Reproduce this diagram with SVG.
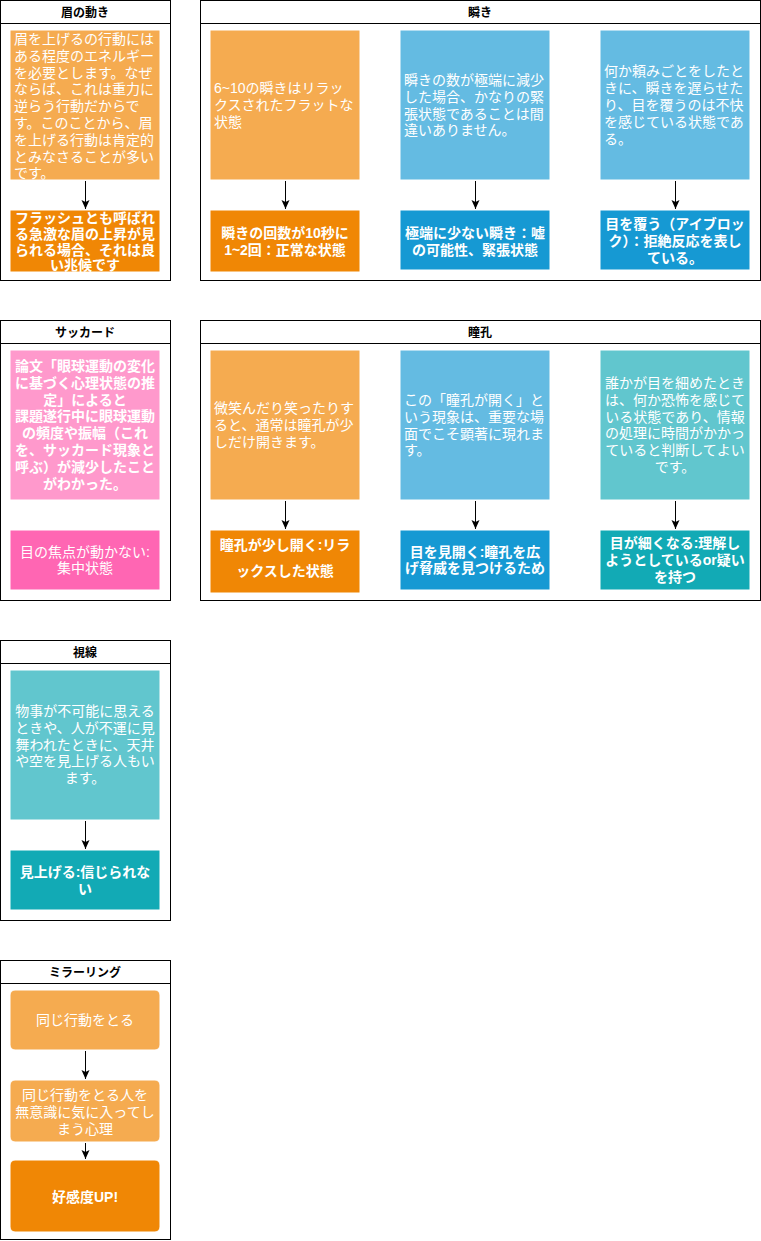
<svg xmlns="http://www.w3.org/2000/svg" width="761" height="1241" viewBox="0 0 761 1241">
<style>
text{font-family:"Liberation Sans","Noto Sans CJK JP",sans-serif;fill:#ffffff;font-size:14px}
.h{fill:#000000;font-size:12px;font-weight:bold;text-anchor:middle}
.b{font-weight:bold}
.c{text-anchor:middle}
.lane{fill:#ffffff;stroke:#000000;stroke-width:1}
.sep{stroke:#000000;stroke-width:1}
.n{stroke:#ffffff;stroke-width:1}
.lo{fill:#F5AB50}.o{fill:#F08705}
.lb{fill:#64BBE2}.bl{fill:#1699D3}
.lt{fill:#61C6CE}.t{fill:#12AAB5}
.lp{fill:#FF99CC}.p{fill:#FF66B3}
.e{stroke:#000000;stroke-width:1;fill:none;marker-end:url(#arr)}
</style>
<defs>
<marker id="arr" markerUnits="userSpaceOnUse" markerWidth="10" markerHeight="9" refX="9" refY="4" orient="auto" viewBox="0 0 10 9">
<path d="M0,0 L9,4 L0,8 L2,4 Z" fill="#000000"/>
</marker>
</defs>

<g id="lane-mayu">
<rect class="lane" x="0.5" y="0.5" width="170" height="280"/>
<line class="sep" x1="0.5" y1="23.5" x2="170.5" y2="23.5"/>
<text class="h" x="85" y="17">眉の動き</text>
</g>
<g id="mayu-1">
<rect class="n lo" x="10" y="30" width="150" height="150"/>
<text x="14" y="44">眉を上げるの行動には</text>
<text x="14" y="60.8">ある程度のエネルギー</text>
<text x="14" y="77.6">を必要とします。なぜ</text>
<text x="14" y="94.4">ならば、これは重力に</text>
<text x="14" y="111.2">逆らう行動だからで</text>
<text x="14" y="128">す。このことから、眉</text>
<text x="14" y="144.8">を上げる行動は肯定的</text>
<text x="14" y="161.6">とみなさることが多い</text>
<text x="14" y="178">です。</text>
</g>
<g id="mayu-2">
<rect class="n o" x="10" y="210" width="150" height="62"/>
<text class="b c" x="85" y="222.5">フラッシュとも呼ばれ</text>
<text class="b c" x="85" y="238.5">る急激な眉の上昇が見</text>
<text class="b c" x="85" y="254.5">られる場合、それは良</text>
<text class="b c" x="85" y="270">い兆候です</text>
</g>

<g id="lane-mabataki">
<rect class="lane" x="200.5" y="0.5" width="560" height="280"/>
<line class="sep" x1="200.5" y1="23.5" x2="760.5" y2="23.5"/>
<text class="h" x="480" y="17">瞬き</text>
</g>
<g id="mabataki-1">
<rect class="n lo" x="210" y="30" width="150" height="150"/>
<text x="214" y="93">6~10の瞬きはリラッ</text>
<text x="214" y="110">クスされたフラットな</text>
<text x="214" y="127">状態</text>
</g>
<g id="mabataki-2">
<rect class="n lb" x="400" y="30" width="150" height="150"/>
<text x="404" y="85">瞬きの数が極端に減少</text>
<text x="404" y="101.8">した場合、かなりの緊</text>
<text x="404" y="118.6">張状態であることは間</text>
<text x="404" y="135.4">違いありません。</text>
</g>
<g id="mabataki-3">
<rect class="n lb" x="600" y="30" width="150" height="150"/>
<text x="604" y="76.4">何か頼みごとをしたと</text>
<text x="604" y="93.2">きに、瞬きを遅らせた</text>
<text x="604" y="110">り、目を覆うのは不快</text>
<text x="604" y="126.8">を感じている状態であ</text>
<text x="604" y="143.6">る。</text>
</g>
<g id="mabataki-1b">
<rect class="n o" x="210" y="210" width="150" height="62"/>
<text class="b c" x="285" y="238">瞬きの回数が10秒に</text>
<text class="b c" x="285" y="255">1~2回：正常な状態</text>
</g>
<g id="mabataki-2b">
<rect class="n bl" x="400" y="210" width="150" height="60"/>
<text class="b c" x="475" y="238">極端に少ない瞬き：嘘</text>
<text class="b c" x="475" y="255">の可能性、緊張状態</text>
</g>
<g id="mabataki-3b">
<rect class="n bl" x="600" y="210" width="150" height="60"/>
<text class="b c" x="675" y="229">目を覆う（アイブロッ</text>
<text class="b c" x="675" y="246">ク）：拒絶反応を表し</text>
<text class="b c" x="675" y="263">ている。</text>
</g>

<g id="lane-saccade">
<rect class="lane" x="0.5" y="320.5" width="170" height="280"/>
<line class="sep" x1="0.5" y1="343.5" x2="170.5" y2="343.5"/>
<text class="h" x="85" y="337">サッカード</text>
</g>
<g id="saccade-1">
<rect class="n lp" x="10" y="350" width="150" height="150"/>
<text class="b c" x="85" y="371">論文「眼球運動の変化</text>
<text class="b c" x="85" y="387.8">に基づく心理状態の推</text>
<text class="b c" x="85" y="404.6">定」によると</text>
<text class="b c" x="85" y="421.4">課題遂行中に眼球運動</text>
<text class="b c" x="85" y="438.2">の頻度や振幅（これ</text>
<text class="b c" x="85" y="455">を、サッカード現象と</text>
<text class="b c" x="85" y="471.8">呼ぶ）が減少したこと</text>
<text class="b c" x="85" y="488.6">がわかった。</text>
</g>
<g id="saccade-2">
<rect class="n p" x="10" y="530" width="150" height="60"/>
<text class="c" x="85" y="556.6">目の焦点が動かない:</text>
<text class="c" x="85" y="573.4">集中状態</text>
</g>

<g id="lane-doukou">
<rect class="lane" x="200.5" y="320.5" width="560" height="280"/>
<line class="sep" x1="200.5" y1="343.5" x2="760.5" y2="343.5"/>
<text class="h" x="480" y="337">瞳孔</text>
</g>
<g id="doukou-1">
<rect class="n lo" x="210" y="350" width="150" height="150"/>
<text x="214" y="413">微笑んだり笑ったりす</text>
<text x="214" y="430">ると、通常は瞳孔が少</text>
<text x="214" y="447">しだけ開きます。</text>
</g>
<g id="doukou-2">
<rect class="n lb" x="400" y="350" width="150" height="150"/>
<text x="404" y="405">この「瞳孔が開く」と</text>
<text x="404" y="421.8">いう現象は、重要な場</text>
<text x="404" y="438.6">面でこそ顕著に現れま</text>
<text x="404" y="455.4">す。</text>
</g>
<g id="doukou-3">
<rect class="n lt" x="600" y="350" width="150" height="150"/>
<text class="c" x="675" y="388">誰かが目を細めたとき</text>
<text class="c" x="675" y="404.8">は、何か恐怖を感じて</text>
<text class="c" x="675" y="421.6">いる状態であり、情報</text>
<text class="c" x="675" y="438.4">の処理に時間がかかっ</text>
<text class="c" x="675" y="455.2">ていると判断してよい</text>
<text class="c" x="675" y="472">です。</text>
</g>
<g id="doukou-1b">
<rect class="n o" x="210" y="530" width="150" height="63"/>
<text class="b c" x="285" y="550">瞳孔が少し開く:リラ</text>
<text class="b c" x="285" y="576">ックスした状態</text>
</g>
<g id="doukou-2b">
<rect class="n bl" x="400" y="530" width="150" height="60"/>
<text class="b c" x="475" y="556.6">目を見開く:瞳孔を広</text>
<text class="b c" x="475" y="573.4">げ脅威を見つけるため</text>
</g>
<g id="doukou-3b">
<rect class="n t" x="600" y="530" width="150" height="60"/>
<text class="b c" x="675" y="548">目が細くなる:理解し</text>
<text class="b c" x="675" y="565">ようとしているor疑い</text>
<text class="b c" x="675" y="582">を持つ</text>
</g>

<g id="lane-shisen">
<rect class="lane" x="0.5" y="640.5" width="170" height="280"/>
<line class="sep" x1="0.5" y1="663.5" x2="170.5" y2="663.5"/>
<text class="h" x="85" y="657">視線</text>
</g>
<g id="shisen-1">
<rect class="n lt" x="10" y="670" width="150" height="150"/>
<text class="c" x="85" y="716">物事が不可能に思える</text>
<text class="c" x="85" y="732.8">ときや、人が不運に見</text>
<text class="c" x="85" y="749.6">舞われたときに、天井</text>
<text class="c" x="85" y="766.4">や空を見上げる人もい</text>
<text class="c" x="85" y="783.2">ます。</text>
</g>
<g id="shisen-2">
<rect class="n t" x="10" y="850" width="150" height="60"/>
<text class="b c" x="85" y="877">見上げる:信じられな</text>
<text class="b c" x="85" y="894">い</text>
</g>

<g id="lane-mirroring">
<rect class="lane" x="0.5" y="960.5" width="170" height="279"/>
<line class="sep" x1="0.5" y1="983.5" x2="170.5" y2="983.5"/>
<text class="h" x="85" y="977">ミラーリング</text>
</g>
<g id="mirroring-1">
<rect class="n lo" x="10" y="990" width="150" height="60" rx="5"/>
<text class="c" x="85" y="1025">同じ行動をとる</text>
</g>
<g id="mirroring-2">
<rect class="n lo" x="10" y="1080" width="150" height="62" rx="5"/>
<text class="c" x="85" y="1099.5">同じ行動をとる人を</text>
<text class="c" x="85" y="1116.5">無意識に気に入ってし</text>
<text class="c" x="85" y="1133.5">まう心理</text>
</g>
<g id="mirroring-3">
<rect class="n o" x="10" y="1160" width="150" height="72" rx="5"/>
<text class="b c" x="85" y="1202">好感度UP!</text>
</g>

<g id="connectors">
<path class="e" d="M85.5,181 L85.5,209"/>
<path class="e" d="M285.5,181 L285.5,209"/>
<path class="e" d="M475.5,181 L475.5,209"/>
<path class="e" d="M675.5,181 L675.5,209"/>
<path class="e" d="M285.5,501 L285.5,529"/>
<path class="e" d="M475.5,501 L475.5,529"/>
<path class="e" d="M675.5,501 L675.5,529"/>
<path class="e" d="M85.5,821 L85.5,849"/>
<path class="e" d="M85.5,1051 L85.5,1079"/>
<path class="e" d="M85.5,1143 L85.5,1159"/>
</g>
</svg>
